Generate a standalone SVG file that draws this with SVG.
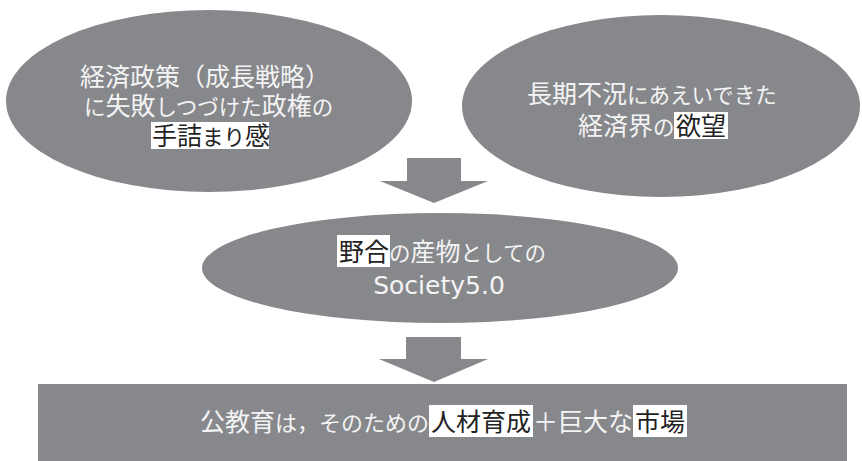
<svg xmlns="http://www.w3.org/2000/svg" width="862" height="461" viewBox="0 0 862 461">
<style>
.shape{fill:#87888c}
.t{font-family:"Noto Sans CJK JP","Noto Sans",sans-serif;font-size:25px;fill:#f4f4f4}
.k{font-size:21.5px}
.hl{fill:#ffffff}
.d{fill:#222222}
.lat{font-family:"DejaVu Sans","Noto Sans",sans-serif;font-size:25px;fill:#f4f4f4}
.arrow{fill:#87888c}
</style>
<rect width="862" height="461" fill="#ffffff"/>
<g id="node-left">
<ellipse class="shape" cx="209" cy="101" rx="203" ry="91"/>
<rect class="hl" x="151" y="122" width="118" height="27"/>
<text class="t" x="80" y="85.5">経済政策（成長戦略）</text>
<text class="t" x="84" y="114.5"><tspan class="k">に</tspan>失敗<tspan class="k">しつづけた</tspan>政権<tspan class="k">の</tspan></text>
<text class="t" x="152" y="144.5"><tspan class="d">手詰</tspan><tspan class="d k">まり</tspan><tspan class="d">感</tspan></text>
</g>
<g id="node-right">
<ellipse class="shape" cx="661" cy="106" rx="199" ry="91"/>
<rect class="hl" x="674" y="112" width="54" height="27"/>
<text class="t" x="527" y="102.5">長期不況<tspan class="k">にあえいできた</tspan></text>
<text class="t" x="578" y="134.5">経済界<tspan class="k">の</tspan><tspan class="d" x="676">欲望</tspan></text>
</g>
<g id="node-middle">
<ellipse class="shape" cx="440" cy="268" rx="238" ry="55"/>
<rect class="hl" x="337" y="235" width="53" height="32"/>
<text class="t" x="339" y="260.5"><tspan class="d">野合</tspan><tspan class="k">の</tspan>産物<tspan class="k">としての</tspan></text>
<text class="lat" x="439" y="294" text-anchor="middle">Society5.0</text>
</g>
<g id="node-bottom">
<rect class="shape" x="38" y="384" width="809" height="77"/>
<rect class="hl" x="429" y="405" width="104" height="32"/>
<rect class="hl" x="633" y="405" width="54" height="32"/>
<text class="t" x="200" y="430.5">公教育<tspan class="k" style="font-size:22px">は，そのための</tspan><tspan class="d" x="431">人材育成</tspan><tspan x="533">＋巨大な</tspan><tspan class="d" x="635">市場</tspan></text>
</g>
<g id="connectors">
<polygon class="arrow" points="407,158 461,158 461,181 488,181 434,203 380,181 407,181"/>
<polygon class="arrow" points="406,337 461,337 461,359 488,359 434,382 379,359 406,359"/>
</g>
</svg>
